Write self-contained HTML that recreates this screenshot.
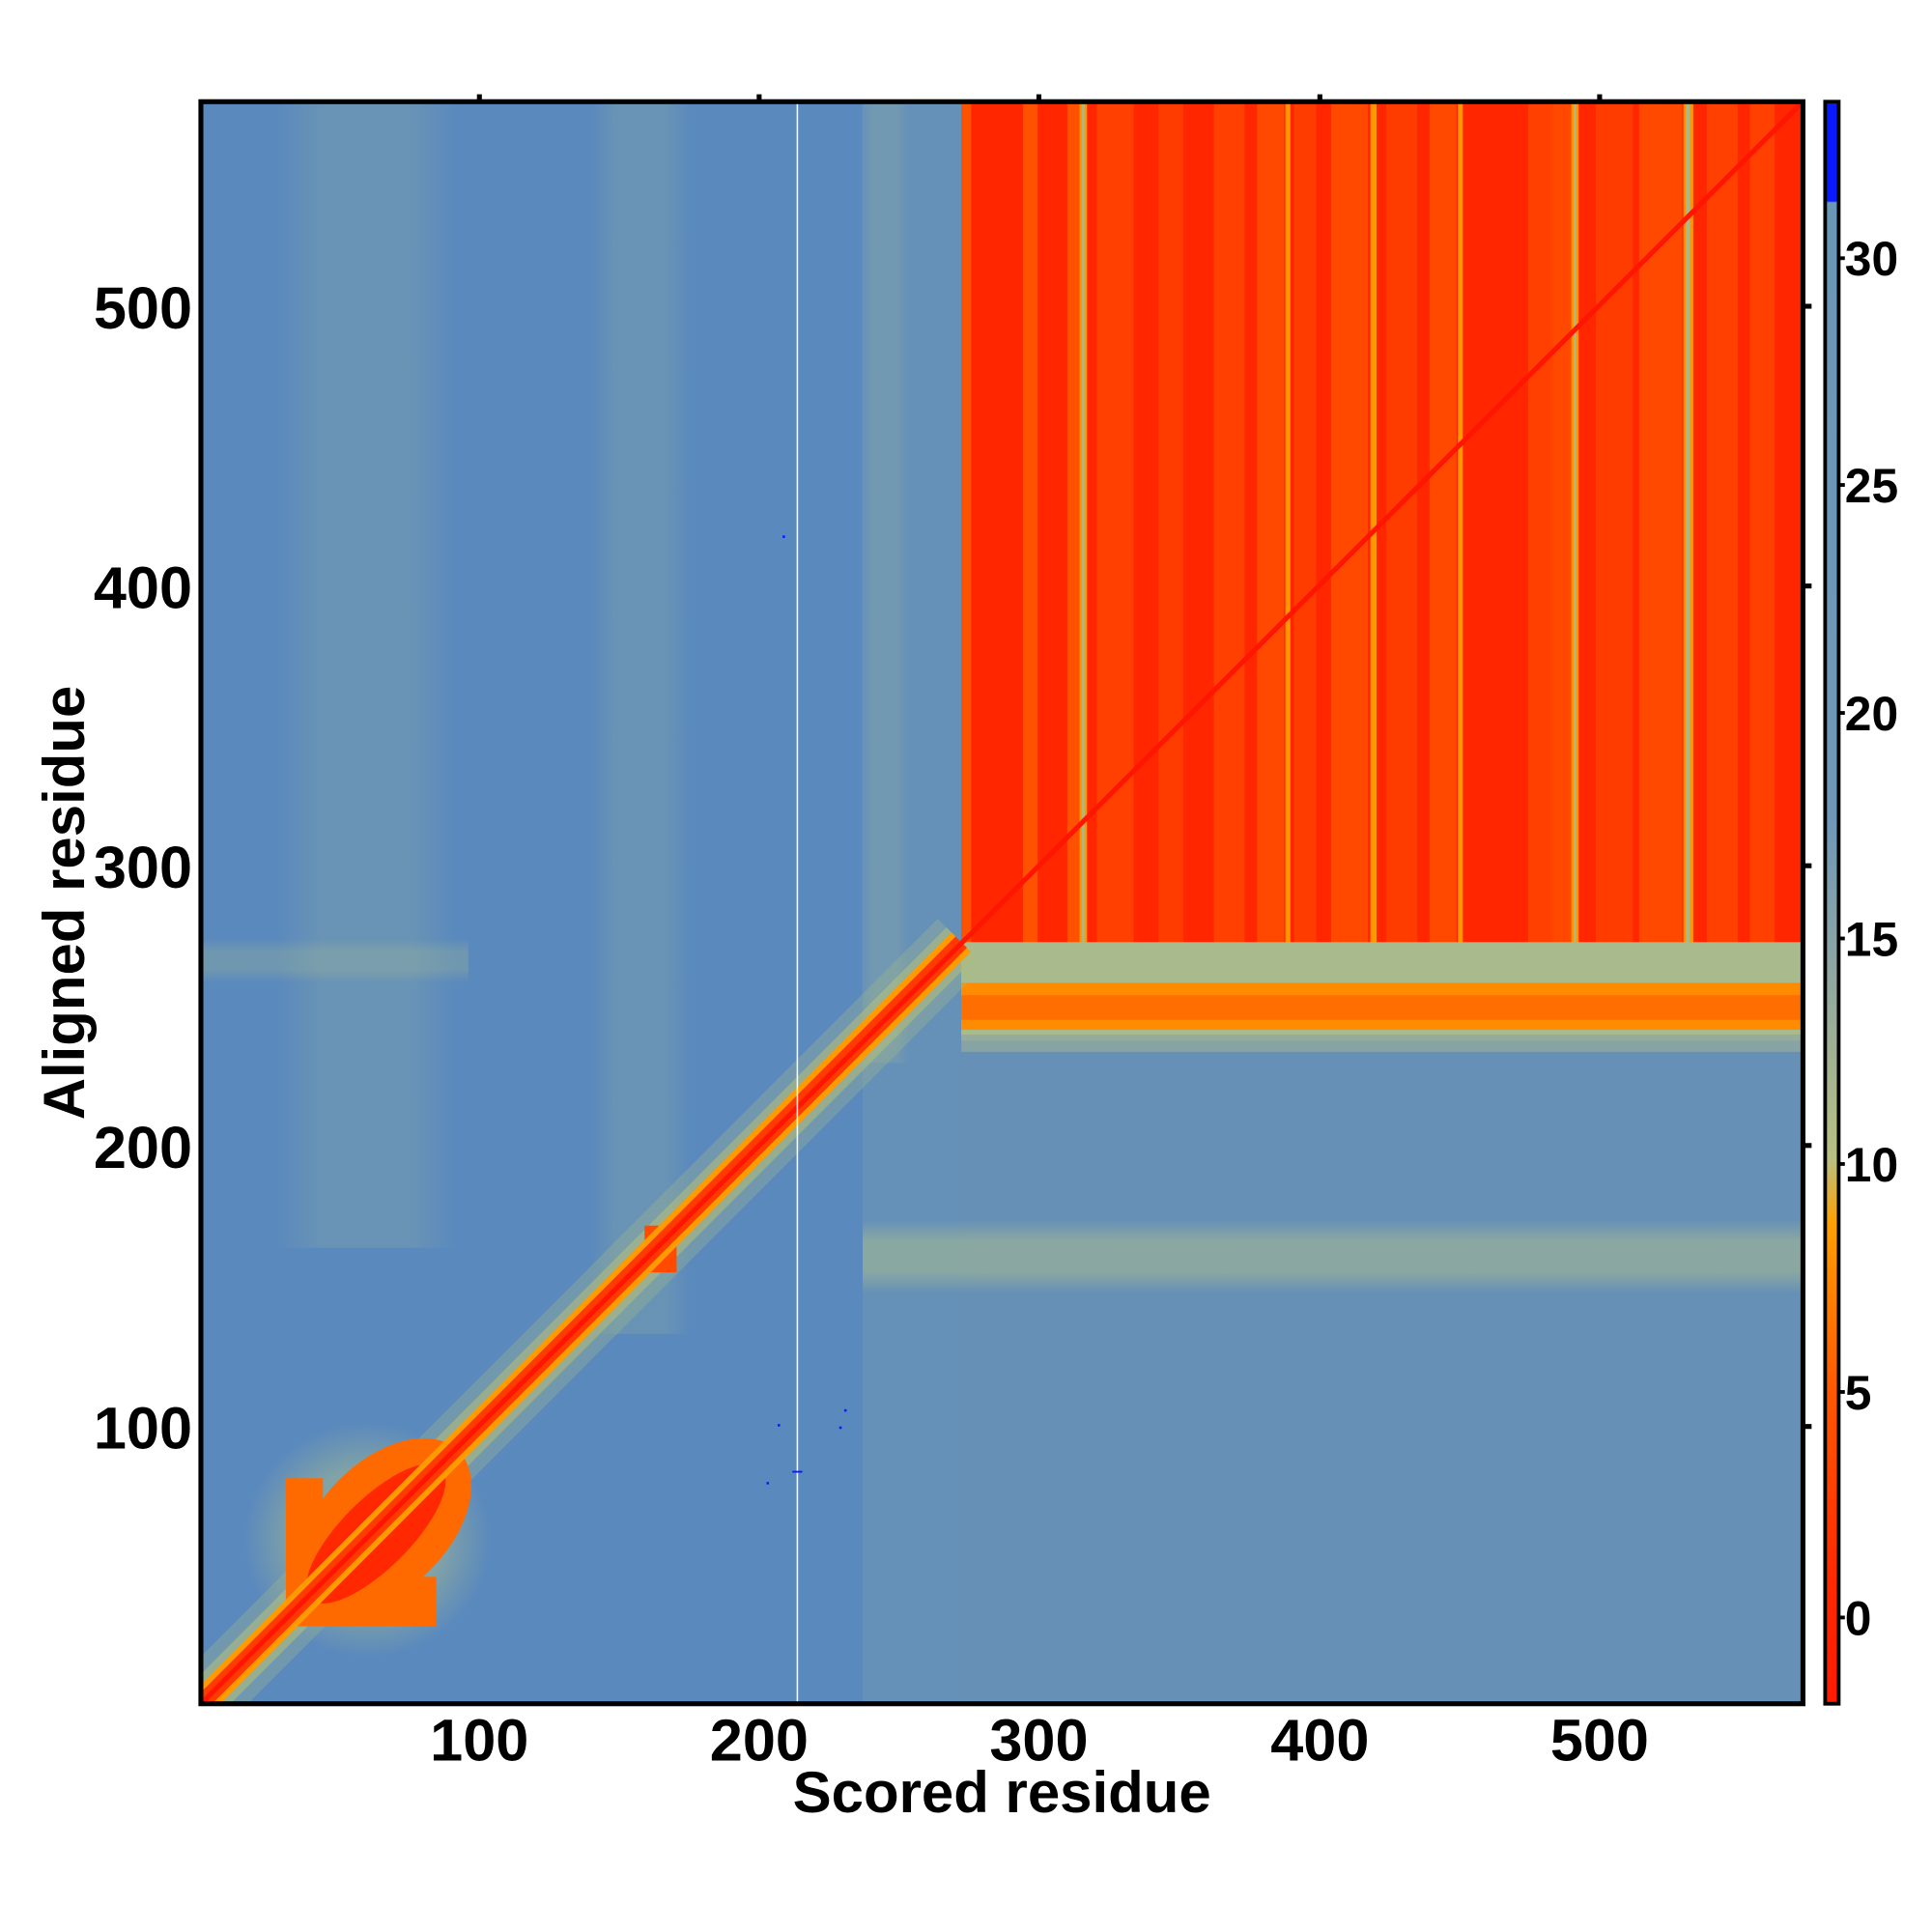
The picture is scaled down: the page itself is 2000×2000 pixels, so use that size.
<!DOCTYPE html>
<html><head><meta charset="utf-8"><style>html,body{margin:0;padding:0;background:#fff}svg{display:block}</style></head>
<body>
<svg width="2000" height="2000" viewBox="0 0 1558 1558" xmlns="http://www.w3.org/2000/svg" font-family="Liberation Sans, sans-serif" font-weight="bold">
<defs>
<linearGradient id="cb" x1="0" y1="1" x2="0" y2="0">
<stop offset="0" stop-color="#ff1a00"/>
<stop offset="0.08" stop-color="#ff2a00"/>
<stop offset="0.2" stop-color="#ff5a00"/>
<stop offset="0.3" stop-color="#ffa000"/>
<stop offset="0.34" stop-color="#b8c080"/>
<stop offset="0.45" stop-color="#90a8a0"/>
<stop offset="0.55" stop-color="#6f98b8"/>
<stop offset="0.937" stop-color="#6a96b8"/>
<stop offset="0.938" stop-color="#0a1aff"/>
<stop offset="1" stop-color="#0a1aff"/>
</linearGradient>
<linearGradient id="vb" x1="0" y1="0" x2="1" y2="0">
<stop offset="0" stop-color="#9fb89a" stop-opacity="0"/>
<stop offset="0.25" stop-color="#9fb89a" stop-opacity="0.22"/>
<stop offset="0.75" stop-color="#9fb89a" stop-opacity="0.22"/>
<stop offset="1" stop-color="#9fb89a" stop-opacity="0"/>
</linearGradient>
<linearGradient id="hb" x1="0" y1="0" x2="0" y2="1">
<stop offset="0" stop-color="#a8bc90" stop-opacity="0"/>
<stop offset="0.3" stop-color="#a8bc90" stop-opacity="0.55"/>
<stop offset="0.7" stop-color="#a8bc90" stop-opacity="0.55"/>
<stop offset="1" stop-color="#a8bc90" stop-opacity="0"/>
</linearGradient>
<radialGradient id="bh"><stop offset="0.6" stop-color="#a8bc90" stop-opacity="0.5"/><stop offset="1" stop-color="#a8bc90" stop-opacity="0"/></radialGradient>
<clipPath id="pc"><rect x="163" y="83" width="1300" height="1300"/></clipPath>
</defs>
<g transform="translate(162,82) scale(0.9938) translate(-163,-83)">
<g clip-path="url(#pc)">
<rect x="163" y="83" width="1300" height="1300" fill="#5a89bd"/>
<rect x="780" y="845" width="683" height="538" fill="#6690b6"/>
<rect x="700" y="83" width="80" height="1300" fill="#6590b8"/>
<rect x="225" y="83" width="145" height="930" fill="url(#vb)"/>
<rect x="480" y="83" width="80" height="1000" fill="url(#vb)"/>
<rect x="698" y="83" width="40" height="780" fill="url(#vb)"/>
<rect x="163" y="762" width="217" height="36" fill="url(#hb)" opacity="0.5"/>
<rect x="700" y="990" width="763" height="60" fill="url(#hb)"/>
<rect x="780" y="83" width="683" height="690" fill="#ff2600"/>
<g fill="#ff5200">
<rect x="780" y="83" width="8" height="690"/>
<rect x="830" y="83" width="12" height="690"/>
<rect x="866" y="83" width="10" height="690"/>
<rect x="890" y="83" width="30" height="690" opacity="0.6"/>
<rect x="940" y="83" width="20" height="690" opacity="0.5"/>
<rect x="985" y="83" width="25" height="690" opacity="0.6"/>
<rect x="1020" y="83" width="22" height="690" opacity="0.8"/>
<rect x="1050" y="83" width="18" height="690" opacity="0.5"/>
<rect x="1080" y="83" width="30" height="690" opacity="0.8"/>
<rect x="1125" y="83" width="25" height="690" opacity="0.5"/>
<rect x="1160" y="83" width="22" height="690" opacity="0.8"/>
<rect x="1240" y="83" width="20" height="690" opacity="0.6"/>
<rect x="1260" y="83" width="15" height="690" opacity="0.8"/>
<rect x="1295" y="83" width="30" height="690" opacity="0.5"/>
<rect x="1330" y="83" width="35" height="690" opacity="0.8"/>
<rect x="1385" y="83" width="25" height="690" opacity="0.6"/>
<rect x="1420" y="83" width="20" height="690" opacity="0.6"/>
</g>
<g fill="#ff9800">
<rect x="876" y="83" width="6" height="690"/>
<rect x="1043" y="83" width="4" height="690"/>
<rect x="1112" y="83" width="5" height="690"/>
<rect x="1183" y="83" width="4" height="690"/>
<rect x="1275" y="83" width="6" height="690"/>
<rect x="1366" y="83" width="8" height="690"/>
</g>
<g fill="#a8b890">
<rect x="878" y="83" width="2" height="690"/>
<rect x="1277" y="83" width="2" height="690"/>
<rect x="1368" y="83" width="3" height="690"/>
</g>
<rect x="780" y="765" width="683" height="80" fill="#a9bb8c"/>
<rect x="780" y="798" width="683" height="38" fill="#ff8c00"/>
<rect x="780" y="808" width="683" height="20" fill="#ff5a00" opacity="0.6"/>
<rect x="780" y="840" width="683" height="14" fill="#90a8a0" opacity="0.8"/>
<!-- diagonal halo -->
<line x1="150" y1="1396" x2="780" y2="765" stroke="#a8bc88" stroke-width="54" opacity="0.3"/>
<line x1="150" y1="1396" x2="780" y2="765" stroke="#b0bc80" stroke-width="34" opacity="0.6"/>
<!-- blob -->
<ellipse cx="298" cy="1250" rx="100" ry="95" fill="url(#bh)"/>
<rect x="232" y="1200" width="30" height="120" fill="#ff6a00"/>
<rect x="232" y="1280" width="122" height="40" fill="#ff6a00"/>
<ellipse cx="312" cy="1238" rx="85" ry="52" transform="rotate(-45 312 1238)" fill="#ff6a00"/>
<ellipse cx="305" cy="1245" rx="75" ry="28" transform="rotate(-45 305 1245)" fill="#ff2800"/>
<rect x="523" y="995" width="26" height="38" fill="#ff4a00"/>
<line x1="150" y1="1396" x2="780" y2="765" stroke="#ff9a00" stroke-width="22"/>
<line x1="150" y1="1396" x2="780" y2="765" stroke="#ff3a00" stroke-width="13"/>
<line x1="150" y1="1396" x2="1470" y2="76" stroke="#ff1600" stroke-width="4"/>
<line x1="647" y1="83" x2="647" y2="1383" stroke="#ffffff" stroke-width="1.2"/>
<g fill="#0a1aff"><rect x="635" y="435" width="2" height="2"/><rect x="631" y="1156" width="2" height="2"/><rect x="622" y="1203" width="2" height="2"/><rect x="685" y="1144" width="2" height="2"/><rect x="681" y="1158" width="2" height="2"/><rect x="643" y="1194" width="8" height="1.5"/></g>
</g>
<rect x="163" y="83" width="1300" height="1300" fill="none" stroke="#000" stroke-width="4"/>
<g stroke="#000" stroke-width="4">
<line x1="389" y1="77" x2="389" y2="83"/><line x1="616" y1="77" x2="616" y2="83"/><line x1="843" y1="77" x2="843" y2="83"/><line x1="1071" y1="77" x2="1071" y2="83"/><line x1="1298" y1="77" x2="1298" y2="83"/>
<line x1="1463" y1="1158" x2="1470" y2="1158"/><line x1="1463" y1="930" x2="1470" y2="930"/><line x1="1463" y1="703" x2="1470" y2="703"/><line x1="1463" y1="476" x2="1470" y2="476"/><line x1="1463" y1="249" x2="1470" y2="249"/>
</g>
<g font-size="48" text-anchor="middle">
<text x="389" y="1429">100</text><text x="616" y="1429">200</text><text x="843" y="1429">300</text><text x="1071" y="1429">400</text><text x="1298" y="1429">500</text>
</g>
<g font-size="48" text-anchor="end">
<text x="156" y="1176">100</text><text x="156" y="948">200</text><text x="156" y="721">300</text><text x="156" y="494">400</text><text x="156" y="267">500</text>
</g>
<text x="813" y="1471" font-size="47" text-anchor="middle">Scored residue</text>
<text transform="translate(68,733) rotate(-90)" font-size="47" text-anchor="middle">Aligned residue</text>
<rect x="1481" y="83" width="11" height="1300" fill="url(#cb)" stroke="#000" stroke-width="3"/>
<g stroke="#000" stroke-width="3">
<line x1="1492" y1="1313" x2="1497" y2="1313"/><line x1="1492" y1="1130" x2="1497" y2="1130"/><line x1="1492" y1="945" x2="1497" y2="945"/><line x1="1492" y1="762" x2="1497" y2="762"/><line x1="1492" y1="579" x2="1497" y2="579"/><line x1="1492" y1="394" x2="1497" y2="394"/><line x1="1492" y1="210" x2="1497" y2="210"/>
</g>
<g font-size="39">
<text x="1497" y="1327">0</text><text x="1497" y="1144">5</text><text x="1497" y="959">10</text><text x="1497" y="776">15</text><text x="1497" y="593">20</text><text x="1497" y="408">25</text><text x="1497" y="224">30</text>
</g>
</g>
</svg>
</body></html>
